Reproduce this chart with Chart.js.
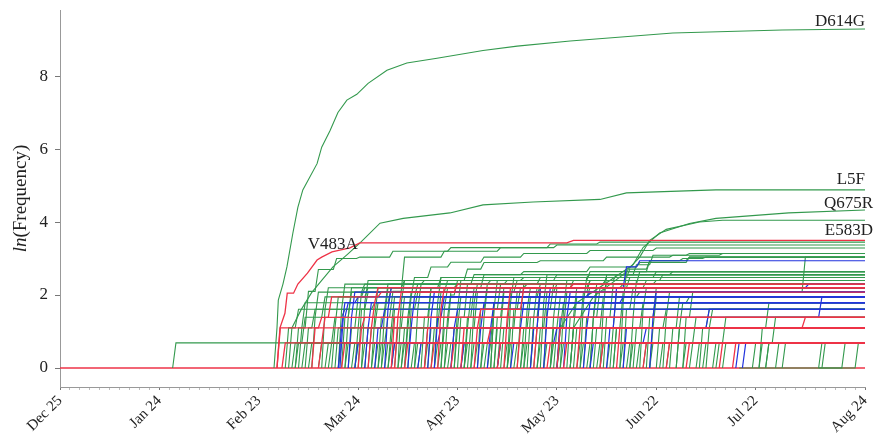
<!DOCTYPE html>
<html>
<head>
<meta charset="utf-8">
<script src="https://cdn.jsdelivr.net/npm/chart.js@4.4.1/dist/chart.umd.min.js"></script>
<style>
  html, body { margin: 0; padding: 0; background: #fff; }
</style>
</head>
<body>
<canvas id="freqChart" width="877" height="443"></canvas>
<script>
// x = days since Dec 25, y = ln(frequency)
const tickDays = [0, 30, 60, 90, 120, 150, 180, 210, 243];
const tickLabels = ['Dec 25', 'Jan 24', 'Feb 23', 'Mar 24', 'Apr 23', 'May 23', 'Jun 22', 'Jul 22', 'Aug 24'];
const yTicks = [0, 2, 4, 6, 8];
const lastDay = 243;

// named mutations, flat lists: day, value, day, value...
const d614g = [64.6,0, 65.5,1.1, 65.9,1.86, 67.3,2.3, 68.5,2.77, 70.3,3.7, 71.8,4.4, 73.3,4.88, 77.6,5.6, 79,6.05, 81.5,6.5, 83.9,7.0, 86.6,7.34, 89.6,7.5, 93,7.8, 98.7,8.16, 104.7,8.36, 113.8,8.49, 127.7,8.7, 138,8.82, 154,8.96, 185,9.18, 218,9.26, 243,9.29];
const l5f = [69,0, 70,1.1, 72.8,1.6, 75.9,2.06, 79,2.4, 82.4,2.77, 86.6,3.1, 90.5,3.42, 96.6,3.97, 103.6,4.1, 117.7,4.25, 127.7,4.47, 142.8,4.55, 163,4.62, 171,4.8, 198,4.88];
const q675r = [150,0, 151,1.1, 156,1.79, 166,2.4, 173,2.83, 176,3.3, 181,3.7, 190,3.96, 198,4.1, 220,4.25, 243,4.33];
const e583d = [154,0, 155,1.1, 161,1.95, 170,2.56, 175,3.04, 178,3.5, 183,3.8, 193,4.0, 200,4.05];
const v483a = [65.5,0, 66.4,1.1, 67.9,1.5, 68.6,2.05, 70.5,2.05, 71.8,2.3, 74.7,2.6, 77.6,2.96, 79,3.04, 82.1,3.18, 87.5,3.29, 90.5,3.43, 153,3.43, 155,3.5];

// first jump of single green variants: [day, level]
const greenSingles = [[34,0.69],[70,0.69],[73,0.69],[75,0.69],[78,0.69],[81,0.69],[83,1.1],[84,0.69],[86,0.69],[88,0.69],[89,0.69],[91,0.69],[92,1.1],[94,0.69],[95,0.69],[97,0.69],[99,0.69],[100,0.69],[102,0.69],[103,0.69],[104,1.1],[106,0.69],[107,0.69],[108,0.69],[110,0.69],[111,1.1],[113,0.69],[114,0.69],[116,0.69],[117,0.69],[119,1.1],[121,0.69],[122,0.69],[124,0.69],[125,0.69],[127,0.69],[129,0.69],[131,1.1],[132,0.69],[134,0.69],[135,0.69],[137,0.69],[139,0.69],[140,0.69],[142,1.1],[144,0.69],[146,0.69],[148,0.69],[150,0.69],[151,0.69],[154,1.1],[156,0.69],[157,0.69],[159,0.69],[162,0.69],[163,0.69],[165,0.69],[167,1.1],[169,0.69],[171,0.69],[172,0.69],[174,0.69],[176,0.69],[178,0.69],[181,0.69],[183,0.69],[186,1.1],[188,0.69],[192,0.69],[194,0.69],[197,0.69],[200,0.69],[209,0.69],[211,0.69],[213,0.69],[216,0.69],[218,0.69],[229,0.69],[230,0.69]];

const greenSteps = [
  [68,0, 69,1.1, 72,1.61],
  [71,0, 72,0.69, 74,1.39, 80,1.95, 92,2.2],
  [74,0, 75,1.1, 77,1.61],
  [80,0, 81,0.69, 83,1.39, 86,1.61, 95,1.79],
  [85,0, 86,1.39, 88,2.08, 92,2.3, 110,2.4],
  [87,0, 88,1.1, 90,1.95, 93,2.2],
  [90,0, 91,1.61, 93,2.08],
  [93,0, 94,1.1, 96,1.79, 100,2.2, 115,2.48],
  [96,0, 97,1.39, 99,2.2, 104,2.4],
  [98,0, 99,0.69, 101,1.61],
  [103,0, 104,1.1, 106,1.95, 108,2.3, 125,2.56],
  [105,0, 106,1.61, 108,2.08],
  [109,0, 110,1.39, 112,2.2, 120,2.3],
  [112,0, 113,1.1, 115,2.08, 117,2.4, 140,2.48],
  [115,0, 116,1.61, 117,2.2],
  [118,0, 119,1.1, 121,1.95],
  [120,0, 121,1.39, 123,2.3, 130,2.4, 150,2.56],
  [123,0, 124,1.1, 126,2.08],
  [126,0, 127,1.61, 129,2.3, 135,2.4],
  [128,0, 129,0.69, 131,1.79],
  [131,0, 132,1.39, 134,2.2, 141,2.3],
  [133,0, 134,1.1, 136,2.08, 138,2.4, 160,2.64],
  [136,0, 137,1.61, 139,2.2],
  [139,0, 140,1.1, 142,1.95, 145,2.3],
  [141,0, 142,1.39, 144,2.2, 155,2.4],
  [144,0, 145,1.1, 147,2.08],
  [146,0, 147,1.61, 149,2.3, 165,2.48],
  [149,0, 150,1.1, 152,1.79],
  [153,0, 154,1.39, 156,2.2, 170,2.3],
  [155,0, 156,1.1, 158,2.08, 160,2.4],
  [158,0, 159,1.39, 162,2.08, 224,2.08, 225,3.04],
  [161,0, 162,1.1, 164,1.95, 175,2.08],
  [164,0, 165,1.39, 167,2.3, 180,2.4],
  [167,0, 168,1.1, 170,2.08],
  [170,0, 171,1.61, 173,2.2],
  [173,0, 174,1.1, 176,1.79, 190,1.95],
  [177,0, 178,1.39, 180,2.2],
  [180,0, 181,1.1, 183,1.61],
  [184,0, 185,1.1, 187,1.95],
  [188,0, 189,1.39, 191,2.08],
  [193,0, 194,1.1, 196,1.61],
  [198,0, 199,0.69, 201,1.39],
  [211,0, 212,1.1, 214,1.79],
  [213,0, 214,0.69, 216,1.39],
  [205,0, 236,0, 237,0.69],
  [229,0, 240,0, 241,0.69]
];

// fast risers (the dense "grass" between Mar and Jul)
const greenSpikes = [
  [72,0, 73,1.1, 74,1.79], [76,0, 77,1.39, 78,2.08], [79,0, 80,1.61, 81,2.2],
  [82,0, 83,1.1, 84,1.95], [84,0, 85,1.61, 86,2.3], [86,0, 87,1.39, 88,2.2],
  [89,0, 90,1.1, 91,2.08], [91,0, 92,1.79, 93,2.4], [94,0, 95,1.39, 96,2.2],
  [97,0, 98,1.61, 99,2.3], [99,0, 100,1.1, 101,1.95], [102,0, 103,1.79, 104,2.4],
  [104,0, 105,1.39, 106,2.08], [107,0, 108,1.61, 109,2.3], [110,0, 111,1.1, 112,2.2],
  [113,0, 114,1.79, 115,2.48], [116,0, 117,1.39, 118,2.08], [119,0, 120,1.61, 121,2.4],
  [122,0, 123,1.1, 124,1.95], [124,0, 125,1.79, 126,2.3], [127,0, 128,1.39, 129,2.2],
  [130,0, 131,1.61, 132,2.4], [132,0, 133,1.1, 134,2.08], [135,0, 136,1.79, 137,2.48],
  [138,0, 139,1.39, 140,2.3], [140,0, 141,1.61, 142,2.2], [143,0, 144,1.1, 145,2.08],
  [145,0, 146,1.79, 147,2.56], [148,0, 149,1.39, 150,2.2], [151,0, 152,1.61, 153,2.4],
  [154,0, 155,1.1, 156,1.95], [157,0, 158,1.79, 159,2.48], [160,0, 161,1.39, 162,2.3],
  [163,0, 164,1.61, 165,2.56], [166,0, 167,1.1, 168,2.08], [169,0, 170,1.79, 171,2.64],
  [172,0, 173,1.39, 174,2.4], [175,0, 176,1.61, 177,2.2], [178,0, 179,1.1, 180,1.95],
  [182,0, 183,1.39, 184,2.08], [186,0, 187,1.1, 188,1.79], [190,0, 191,0.69, 192,1.39],
  [195,0, 196,1.1, 197,1.61]
];

const greenHigh = [
  [71,0, 72,1.1, 75,2.1, 78,2.7, 83.5,3.0, 90.5,3.04, 100.5,3.2, 118,3.3, 150,3.37],
  [96,0, 97,0.69, 99,1.39, 100.5,2.1, 104,3.04, 116,3.2, 133,3.3, 148,3.4, 163,3.45],
  [101,0, 102,1.1, 104,1.95, 107,2.48, 112,2.77, 118,2.9, 128,3.04, 140,3.14, 160,3.22, 180,3.29],
  [115,0, 116,1.1, 118,2.0, 120,2.4, 123,2.71, 128,2.89, 145,2.94, 165,3.04, 185,3.09, 200,3.14],
  [122,0, 123,1.39, 125,2.2, 128,2.56, 140,2.64, 160,2.77, 175,2.89, 190,3.04],
  [130,0, 131,1.61, 133,2.3, 145,2.48, 160,2.56, 185,2.64],
  [135,0, 136,1.1, 138,2.08, 150,2.3, 165,2.48, 172,2.71, 178,2.94, 190,3.04],
  [142,0, 143,1.39, 145,2.2, 160,2.4, 168,2.56, 174,2.83, 179,3.09, 190,3.14],
  [150,0, 151,1.1, 153,2.08, 165,2.3, 175,2.64, 178,2.94, 188,3.0, 195,3.04],
  [160,0, 161,1.39, 163,2.2, 172,2.48, 180,2.64],
  [148,0, 149,1.1, 151,1.95, 160,2.2, 177,2.4, 182,2.56]
];

const blueSteps = [
  [84,0, 85,1.1, 86,1.79, 90,1.95],
  [84.5,0, 85.5,1.39, 87,1.79],
  [87,0, 88,1.39, 89,2.08],
  [89,0, 90,0.69],
  [92,0, 93,1.1, 94,1.79],
  [95,0, 96,1.1, 98,1.61],
  [98,0, 99,1.61, 100,2.2],
  [100,0, 101,0.69, 115,1.1, 140,1.79],
  [105,0, 106,1.1, 107,1.95],
  [108,0, 109,0.69],
  [111,0, 112,1.39, 113,2.08],
  [113,0, 114,1.39, 116,1.95, 160,2.08],
  [118,0, 119,1.1, 120,1.61],
  [121,0, 122,0.69],
  [126,0, 127,1.1, 128,1.79, 170,1.95],
  [129,0, 130,1.1, 131,1.79],
  [132,0, 133,0.69],
  [136,0, 137,0.69, 150,1.1],
  [142,0, 143,1.1, 145,2.2, 225,2.2, 226,2.3],
  [146,0, 147,1.39, 148,2.2],
  [150,0, 151,1.39, 229,1.39, 230,1.95],
  [152,0, 153,1.39, 154,2.08],
  [158,0, 159,1.1, 160,1.79],
  [160,0, 161,0.69, 176,0.69, 177,1.1],
  [165,0, 166,1.1, 168,2.2, 171,2.77, 175,2.94],
  [170,0, 171,1.1, 195,1.1, 196,1.61],
  [178,0, 179,1.39, 180,2.08],
  [204,0, 205,0.69],
  [206,0, 207,0.69]
];

const redBaseline = [0,0, 243,0];
const redSteps = [
  [65.5,0, 66.5,1.1],
  [67,0, 68,0.69],
  [76,0, 77,1.1, 79,1.39, 82,1.95, 97,2.08],
  [78,0, 79,0.69, 80,1.39],
  [85,0, 86,0.69],
  [90,0, 91,1.1, 92,1.39],
  [93,0, 94,1.1, 95,1.79, 96,2.2],
  [100,0, 101,1.39, 103,2.08, 120,2.3],
  [101,0, 102,1.39],
  [104,0, 105,0.69],
  [110,0, 111,1.1],
  [112,0, 113,0.69, 130,1.1],
  [114,0, 115,1.61, 116,2.2],
  [118,0, 119,0.69],
  [121,0, 122,1.1],
  [125,0, 126,1.1, 127,1.61, 140,2.2, 155,2.3],
  [132,0, 133,0.69],
  [134,0, 135,1.39, 136,2.2],
  [138,0, 139,1.1],
  [143,0, 144,1.1],
  [147,0, 148,0.69],
  [150,0, 151,1.1, 224,1.1, 225,1.39],
  [152,0, 153,0.69],
  [156,0, 157,1.1],
  [163,0, 164,0.69],
  [168,0, 169,1.1],
  [176,0, 177,0.69],
  [183,0, 184,0.69],
  [189,0, 190,0.69],
  [199,0, 200,0.69],
  [203,0, 204,0.69]
];

const labelNames = ['D614G', 'L5F', 'Q675R', 'E583D', 'V483A'];
const labelSeries = [d614g, l5f, q675r, e583d, v483a];
const labelDays = [243, 243, 243, 243, 90.5];

const GREEN = '#33994d';
const BLUE = '#2233dd';
const RED = '#ee3347';
const FONT = '"Liberation Serif", "DejaVu Serif", serif';
const riseDays = 1;

// traced curves: straight segments between the read points
function curvePoints(flat) {
  const pts = [];
  for (let i = 0; i < flat.length; i += 2) pts.push({ x: flat[i], y: flat[i + 1] });
  const last = pts[pts.length - 1];
  if (last.x < lastDay) pts.push({ x: lastDay, y: last.y });
  return pts;
}

// counts: value holds, then climbs within riseDays to the next level
function stepPoints(flat) {
  const pts = [{ x: flat[0], y: flat[1] }];
  for (let i = 2; i < flat.length; i += 2) {
    const prev = pts[pts.length - 1];
    const hold = Math.max(prev.x, flat[i] - riseDays);
    if (hold > prev.x) pts.push({ x: hold, y: prev.y });
    pts.push({ x: flat[i], y: flat[i + 1] });
  }
  const last = pts[pts.length - 1];
  if (last.x < lastDay) pts.push({ x: lastDay, y: last.y });
  return pts;
}

function valueAt(flat, day) {
  const pts = curvePoints(flat);
  for (let i = 1; i < pts.length; i++) {
    if (day <= pts[i].x) {
      const a = pts[i - 1], b = pts[i];
      return a.y + (b.y - a.y) * (day - a.x) / (b.x - a.x);
    }
  }
  return pts[pts.length - 1].y;
}

const lineWidths = { [GREEN]: 1.1, [BLUE]: 1.2, [RED]: 1.3 };

function line(points, color) {
  return {
    data: points,
    borderColor: color,
    borderWidth: lineWidths[color],
    pointRadius: 0,
    tension: 0,
    fill: false
  };
}

// painting order: baseline first, reds last (on top)
const layers = [];
layers.push(line(stepPoints(redBaseline), RED));
greenSingles.forEach(([d, v]) => layers.push(line(stepPoints([d, 0, d + riseDays, v]), GREEN)));
greenSteps.forEach(s => layers.push(line(stepPoints(s), GREEN)));
greenSpikes.forEach(s => layers.push(line(stepPoints(s), GREEN)));
greenHigh.forEach(s => layers.push(line(stepPoints(s), GREEN)));
[d614g, l5f, q675r, e583d].forEach(s => layers.push(line(curvePoints(s), GREEN)));
blueSteps.forEach(s => layers.push(line(stepPoints(s), BLUE)));
redSteps.forEach(s => layers.push(line(stepPoints(s), RED)));
layers.push(line(curvePoints(v483a), RED));
// Chart.js paints dataset 0 last, so flip the list
const datasets = layers.reverse();

// label offsets in pixels
const labelStyle = [
  { dx: 0, dy: -3 },
  { dx: 0, dy: -6 },
  { dx: 8, dy: -2 },
  { dx: 8, dy: 15 },
  { dx: -2, dy: 6 }
];

const mutationLabels = {
  id: 'mutationLabels',
  afterDatasetsDraw(chart) {
    const { ctx, scales } = chart;
    ctx.save();
    ctx.font = '17px ' + FONT;
    ctx.fillStyle = '#222';
    ctx.textBaseline = 'alphabetic';
    ctx.textAlign = 'right';
    labelNames.forEach((name, i) => {
      const st = labelStyle[i];
      const x = scales.x.getPixelForValue(labelDays[i]) + st.dx;
      const y = scales.y.getPixelForValue(valueAt(labelSeries[i], labelDays[i])) + st.dy;
      ctx.fillText(name, x, y);
    });
    ctx.restore();
  }
};

const yTitle = {
  id: 'yTitle',
  afterDraw(chart) {
    const { ctx, chartArea } = chart;
    ctx.save();
    ctx.translate(21, (chartArea.top + chartArea.bottom) / 2);
    ctx.rotate(-Math.PI / 2);
    ctx.fillStyle = '#222';
    ctx.textBaseline = 'middle';
    ctx.textAlign = 'left';
    ctx.font = 'italic 19px ' + FONT;
    const w1 = ctx.measureText('ln').width;
    ctx.font = '19px ' + FONT;
    const w2 = ctx.measureText('(Frequency)').width;
    const x0 = -(w1 + w2) / 2;
    ctx.font = 'italic 19px ' + FONT;
    ctx.fillText('ln', x0, 0);
    ctx.font = '19px ' + FONT;
    ctx.fillText('(Frequency)', x0 + w1, 0);
    ctx.restore();
  }
};

new Chart(document.getElementById('freqChart').getContext('2d'), {
  type: 'line',
  data: { datasets },
  options: {
    responsive: false,
    animation: false,
    events: [],
    layout: { padding: { top: 10, right: 12, left: 0, bottom: 0 } },
    plugins: { legend: { display: false }, tooltip: { enabled: false } },
    scales: {
      x: {
        type: 'linear',
        min: 0,
        max: lastDay,
        afterBuildTicks: scale => {
          const t = [];
          for (let d = 0; d <= lastDay; d += 3) t.push({ value: d });
          scale.ticks = t;
        },
        afterFit: scale => {
          scale.height = 56;
          scale.paddingLeft = 0;
          scale.paddingRight = 0;
        },
        border: { color: '#999', width: 1 },
        grid: {
          drawOnChartArea: false,
          tickLength: 3,
          tickColor: c => tickDays.includes(c.tick && c.tick.value) ? '#777' : '#bbb'
        },
        ticks: {
          autoSkip: false,
          minRotation: 45,
          maxRotation: 45,
          padding: 2,
          color: '#222',
          font: { family: FONT, size: 15 },
          callback: v => {
            const i = tickDays.indexOf(v);
            return i >= 0 ? tickLabels[i] : '';
          }
        }
      },
      y: {
        type: 'linear',
        min: -0.52,
        max: 9.81,
        afterBuildTicks: scale => { scale.ticks = yTicks.map(v => ({ value: v })); },
        afterFit: scale => {
          scale.width = 60;
          scale.paddingTop = 0;
          scale.paddingBottom = 0;
        },
        border: { color: '#999', width: 1 },
        grid: { drawOnChartArea: false, tickLength: 5, tickColor: '#777' },
        ticks: {
          padding: 7,
          color: '#222',
          font: { family: FONT, size: 17 }
        }
      }
    }
  },
  plugins: [mutationLabels, yTitle]
});
</script>
</body>
</html>
